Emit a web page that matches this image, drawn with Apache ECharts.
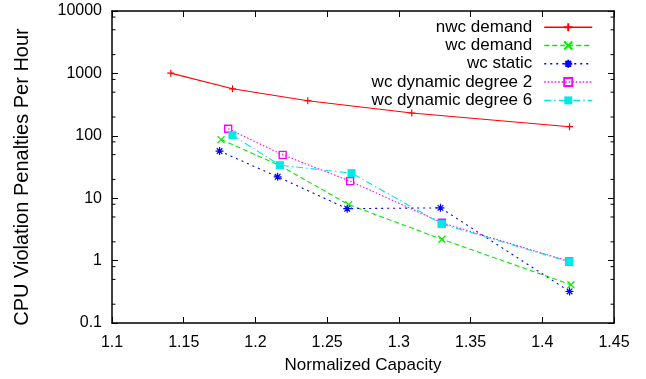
<!DOCTYPE html>
<html><head><meta charset="utf-8">
<script src="https://cdn.jsdelivr.net/npm/echarts@6/dist/echarts.min.js"></script>
<style>html,body{margin:0;padding:0;background:#fff}#c{width:646px;height:379px}</style>
</head><body><div id="c"></div>
<script>
// ---- data ----
const seriesNames = ['nwc demand', 'wc demand', 'wc static', 'wc dynamic degree 2', 'wc dynamic degree 6'];
const nwcDemand = [[1.141, 1010], [1.184, 567], [1.2365, 365], [1.309, 232], [1.419, 140]];
const wcDemand  = [[1.176, 87], [1.217, 33.4], [1.265, 7.9], [1.330, 2.2], [1.420, 0.41]];
const wcStatic  = [[1.175, 57], [1.2155, 22], [1.264, 6.8], [1.329, 7.0], [1.419, 0.32]];
const wcDyn2    = [[1.181, 130], [1.219, 49.5], [1.266, 18.8], [1.330, 4.05], [1.4187, 0.97]];
const wcDyn6    = [[1.184, 102], [1.217, 33.8], [1.267, 25.2], [1.330, 3.86], [1.4187, 0.96]];
const xMin = 1.1, xMax = 1.45, xInterval = 0.05;
const yMin = 0.1, yMax = 10000;
const yMinorTicks = [0.2, 0.5, 0.8, 2, 5, 8, 20, 50, 80, 200, 500, 800, 2000, 5000, 8000];

const FONT = "'Liberation Sans', Arial, Helvetica, sans-serif";
const plusPath = 'path://M0,5L10,5M5,0L5,10';
const crossPath = 'path://M0,0L10,10M0,10L10,0';
const starPath = 'path://M0,5L10,5M5,0L5,10M1.5,1.5L8.5,8.5M1.5,8.5L8.5,1.5';
const colors = ['#ff0000', '#00ee00', '#0000ff', '#ff00ff', '#00e8e8'];
const dashes = ['solid', [5, 3], [2, 4], [1.5, 2], [7, 3, 1.5, 3]];

const chart = echarts.init(document.getElementById('c'), null, {renderer: 'canvas'});

function xAxisCfg(pos) {
  const a = {
    type: 'value', min: xMin, max: xMax, interval: xInterval, position: pos,
    axisLine: {show: true, onZero: false, lineStyle: {color: '#000', width: 1.5}},
    axisTick: {show: true, inside: true, length: 6, lineStyle: {color: '#000', width: 1}},
    axisLabel: {show: pos === 'bottom', fontSize: 16, color: '#000', margin: 12, fontFamily: FONT},
    splitLine: {show: false}
  };
  if (pos === 'bottom') {
    a.name = 'Normalized Capacity';
    a.nameLocation = 'middle';
    a.nameGap = 34;
    a.nameTextStyle = {fontSize: 17, color: '#000', fontFamily: FONT};
  }
  return a;
}
function yAxisCfg(pos) {
  const a = {
    type: 'log', logBase: 10, min: yMin, max: yMax, interval: 1, position: pos,
    axisLine: {show: true, onZero: false, lineStyle: {color: '#000', width: 1.5}},
    axisTick: {show: true, inside: true, length: 6, lineStyle: {color: '#000', width: 1}},
    axisLabel: {show: pos === 'left', fontSize: 16, color: '#000', margin: 10, fontFamily: FONT,
      formatter: v => String(+(+v).toPrecision(6))},
    splitLine: {show: false}, minorTick: {show: false}
  };
  if (pos === 'left') {
    a.name = 'CPU Violation Penalties Per Hour';
    a.nameLocation = 'middle';
    a.nameGap = 80;
    a.nameRotate = 90;
    a.nameTextStyle = {fontSize: 20, color: '#000', fontFamily: FONT, padding: [0, 20, 0, 0]};
  }
  return a;
}

function lineSeries(name, data, color, dash, symbol, size, filled) {
  return {
    name, type: 'line', data, xAxisIndex: 0, yAxisIndex: 0,
    symbol, symbolSize: size, showAllSymbol: true,
    lineStyle: {color, width: 1.1, type: dash},
    itemStyle: filled === 'open'
      ? {color: 'rgba(255,255,255,0)', borderColor: color, borderWidth: 1.4}
      : filled === 'fill'
        ? {color, borderWidth: 0}
        : {color, borderColor: color, borderWidth: 1.2},
    emphasis: {disabled: true}, animation: false
  };
}

const option = {
  animation: false,
  backgroundColor: '#fff',
  grid: {left: 112, right: 32, top: 11, bottom: 55, containLabel: false},
  xAxis: [xAxisCfg('bottom'), xAxisCfg('top')],
  yAxis: [yAxisCfg('left'), yAxisCfg('right')],
  legend: {
    data: seriesNames.map((n, i) => ({name: n, lineStyle: {color: colors[i], type: dashes[i], width: 1.5}})),
    orient: 'vertical', right: 53, top: 18.7, align: 'right', padding: 0,
    itemWidth: 48, itemHeight: 10, itemGap: 1.3, selectedMode: false,
    textStyle: {fontSize: 17, color: '#000', fontFamily: FONT, lineHeight: 16, padding: [0, 7, 0, 0]}
  },
  series: [
    lineSeries(seriesNames[0], nwcDemand, colors[0], dashes[0], plusPath, 7, 'stroke'),
    lineSeries(seriesNames[1], wcDemand, colors[1], dashes[1], crossPath, 7, 'stroke'),
    lineSeries(seriesNames[2], wcStatic, colors[2], dashes[2], starPath, 8, 'stroke'),
    lineSeries(seriesNames[3], wcDyn2, colors[3], dashes[3], 'rect', 7, 'open'),
    lineSeries(seriesNames[4], wcDyn6, colors[4], dashes[4], 'rect', 8, 'fill'),
    {
      type: 'custom', name: 'minorTicks', silent: true, clip: false, z: 5,
      xAxisIndex: 0, yAxisIndex: 0,
      data: yMinorTicks.map(v => [xMin, v]),
      renderItem: function (params, api) {
        const v = api.value(1);
        const l = api.coord([xMin, v]);
        const r = api.coord([xMax, v]);
        return {type: 'group', children: [
          {type: 'line', shape: {x1: l[0], y1: l[1], x2: l[0] + 3.5, y2: l[1]}, style: {stroke: '#000', lineWidth: 1}},
          {type: 'line', shape: {x1: r[0], y1: r[1], x2: r[0] - 3.5, y2: r[1]}, style: {stroke: '#000', lineWidth: 1}}
        ]};
      },
      animation: false
    }
  ]
};
chart.setOption(option);
</script>
</body></html>
